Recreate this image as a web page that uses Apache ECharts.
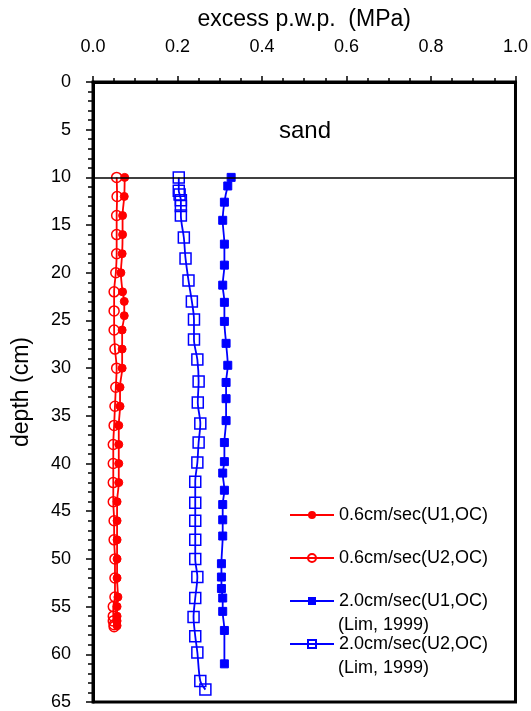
<!DOCTYPE html>
<html>
<head>
<meta charset="utf-8">
<script src="https://cdn.jsdelivr.net/npm/echarts@6/dist/echarts.min.js"></script>
<style>
html,body{margin:0;padding:0;background:#fff;}
#chart{width:531px;height:711px;}
</style>
</head>
<body>
<div id="chart"></div>
<script>
// ---- data ----
const xTicks = [0.0, 0.2, 0.4, 0.6, 0.8, 1.0];
const yTicks = [0, 5, 10, 15, 20, 25, 30, 35, 40, 45, 50, 55, 60, 65];

const seriesNames = [
  '0.6cm/sec(U1,OC)',
  '0.6cm/sec(U2,OC)',
  '2.0cm/sec(U1,OC)\n(Lim, 1999)',
  '2.0cm/sec(U2,OC)\n(Lim, 1999)'
];

const u1Slow_depth = [10,12,14,16,18,20,22,23,24.5,26,28,30,32,34,36,38,40,42,44,46,48,50,52,54,55,56,56.5,57];
const u1Slow_pwp   = [0.075,0.074,0.070,0.070,0.069,0.066,0.070,0.074,0.074,0.069,0.069,0.069,0.064,0.064,0.061,0.061,0.061,0.061,0.057,0.057,0.057,0.057,0.057,0.059,0.057,0.057,0.057,0.057];

const u2Slow_depth = [10,12,14,16,18,20,22,24,26,28,30,32,34,36,38,40,42,44,46,48,50,52,54,55,56,56.5,56.9,57.1];
const u2Slow_pwp   = [0.056,0.057,0.056,0.056,0.056,0.054,0.050,0.050,0.050,0.052,0.056,0.054,0.052,0.050,0.048,0.048,0.048,0.048,0.050,0.050,0.052,0.052,0.052,0.048,0.048,0.048,0.050,0.050];

const u1Fast_depth = [10.0,10.9,12.6,14.5,17.0,19.2,21.3,23.1,25.1,27.4,29.7,31.5,33.2,35.5,37.8,39.8,41.0,42.8,44.3,45.9,47.6,50.5,51.9,53.1,54.1,55.5,57.5,61.0];
const u1Fast_pwp   = [0.327,0.319,0.311,0.307,0.311,0.311,0.307,0.311,0.311,0.315,0.319,0.315,0.315,0.315,0.311,0.311,0.307,0.311,0.307,0.307,0.307,0.304,0.304,0.304,0.307,0.307,0.311,0.311];

const u2Fast_depth = [10.0,11.4,11.8,12.4,13.0,14.0,16.3,18.5,20.8,23.0,24.9,27.0,29.1,31.4,33.6,35.8,37.8,39.9,41.9,44.1,46.0,48.0,50.0,51.9,54.1,56.1,58.1,59.8,62.8,63.7];
const u2Fast_pwp   = [0.203,0.203,0.205,0.208,0.208,0.208,0.215,0.219,0.226,0.234,0.239,0.239,0.247,0.250,0.248,0.254,0.250,0.247,0.242,0.242,0.242,0.242,0.242,0.247,0.242,0.238,0.242,0.247,0.254,0.266];

const layerDepth = 10;
const layerLabel = 'sand';
const xName = 'excess p.w.p.  (MPa)';
const yName = 'depth (cm)';

// ---- build ----
function pairs(xs, ys){ return xs.map((v,i)=>[v, ys[i]]); }
const FONT = "'Liberation Sans', Arial, sans-serif";
const RED = '#ff0000', BLUE = '#0000ff';

const chart = echarts.init(document.getElementById('chart'), null, {renderer:'canvas'});

const option = {
  animation: false,
  backgroundColor: '#fff',
  textStyle: {fontFamily: FONT},
  grid: {left: 93, right: 14, top: 82, bottom: 8, show: true, borderColor: '#000', borderWidth: 3, backgroundColor: 'transparent'},
  xAxis: {
    type: 'value', position: 'top', min: xTicks[0], max: xTicks[xTicks.length-1], interval: 0.2,
    name: xName, nameLocation: 'middle', nameGap: 51,
    nameTextStyle: {fontSize: 23, color: '#000', fontFamily: FONT},
    axisLine: {show: true, lineStyle: {color: '#000', width: 3}},
    axisTick: {show: true, length: 6, lineStyle: {color: '#000', width: 1.5}},
    minorTick: {show: true, splitNumber: 4, length: 4, lineStyle: {color: '#000', width: 1.5}},
    axisLabel: {fontSize: 18, color: '#000', margin: 26, fontFamily: FONT, formatter: v => v.toFixed(1)},
    splitLine: {show: false}
  },
  yAxis: {
    type: 'value', inverse: true, min: yTicks[0], max: yTicks[yTicks.length-1], interval: 5,
    name: yName, nameLocation: 'middle', nameGap: 60, nameRotate: 90,
    nameTextStyle: {fontSize: 23, color: '#000', fontFamily: FONT},
    axisLine: {show: true, lineStyle: {color: '#000', width: 3}},
    axisTick: {show: true, length: 7, lineStyle: {color: '#000', width: 1.5}},
    minorTick: {show: true, splitNumber: 5, length: 5, lineStyle: {color: '#000', width: 1.5}},
    axisLabel: {fontSize: 18, color: '#000', margin: 22, fontFamily: FONT},
    splitLine: {show: false}
  },
  legend: {
    orient: 'vertical', left: 289, top: 505, padding: 0,
    itemWidth: 44, itemHeight: 10, itemGap: 23,
    textStyle: {fontSize: 18, color: '#000', fontFamily: FONT, lineHeight: 20},
    formatter: name => name.split('\n')[0],
    data: seriesNames
  },
  graphic: [
    {type: 'text', x: 338, y: 625, style: {text: '(Lim, 1999)', font: '18px ' + FONT, fill: '#000', verticalAlign: 'middle'}},
    {type: 'text', x: 338, y: 668, style: {text: '(Lim, 1999)', font: '18px ' + FONT, fill: '#000', verticalAlign: 'middle'}},
    {type: 'text', x: 305, y: 131, style: {text: layerLabel, font: '24px ' + FONT, fill: '#000', align: 'center', verticalAlign: 'middle'}}
  ],
  series: [
    {
      name: seriesNames[0], type: 'line', smooth: 0.3,
      data: pairs(u1Slow_pwp, u1Slow_depth),
      symbol: 'circle', symbolSize: 8,
      lineStyle: {color: RED, width: 1.8},
      itemStyle: {color: RED, borderColor: RED},
      markLine: {
        silent: true, symbol: 'none', label: {show: false},
        lineStyle: {color: '#000', width: 1.5, type: 'solid'},
        data: [{yAxis: layerDepth}]
      },
      z: 3
    },
    {
      name: seriesNames[1], type: 'line', smooth: 0.3,
      data: pairs(u2Slow_pwp, u2Slow_depth),
      symbol: 'circle', symbolSize: 10,
      lineStyle: {color: RED, width: 1.8},
      itemStyle: {color: 'rgba(0,0,0,0)', borderColor: RED, borderWidth: 1.5},
      z: 2
    },
    {
      name: seriesNames[2], type: 'line', smooth: 0.3,
      data: pairs(u1Fast_pwp, u1Fast_depth),
      symbol: 'rect', symbolSize: 8,
      lineStyle: {color: BLUE, width: 1.8},
      itemStyle: {color: BLUE, borderColor: BLUE},
      z: 3
    },
    {
      name: seriesNames[3], type: 'line', smooth: 0.3,
      data: pairs(u2Fast_pwp, u2Fast_depth),
      symbol: 'rect', symbolSize: 11,
      lineStyle: {color: BLUE, width: 1.8},
      itemStyle: {color: 'rgba(0,0,0,0)', borderColor: BLUE, borderWidth: 1.5},
      z: 2
    }
  ]
};
chart.setOption(option);
</script>
</body>
</html>
